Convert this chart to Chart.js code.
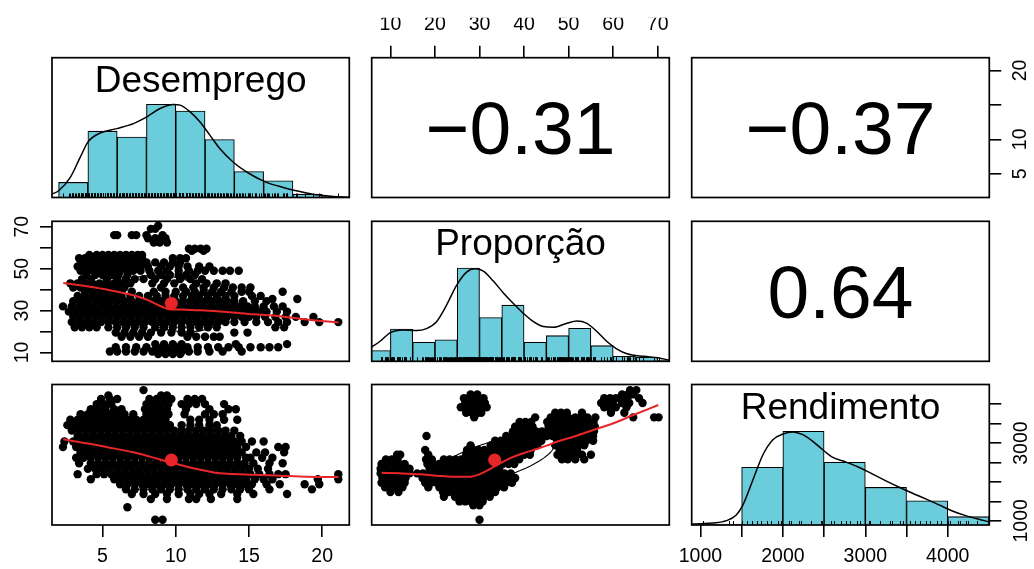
<!DOCTYPE html>
<html><head><meta charset="utf-8">
<script src="https://cdn.jsdelivr.net/npm/chart.js@4.4.1/dist/chart.umd.min.js"></script>
<style>
html,body{margin:0;padding:0;background:#fff;}
#wrap{position:relative;width:1034px;height:569px;overflow:hidden;background:#fff;}
#wrap canvas{position:absolute;left:0;top:0;}
</style></head><body><div id="wrap"></div>
<script>
// ================= DATA =================
const variables = ['Desemprego', 'Proporção', 'Rendimento'];
const correlations = [-0.31, -0.37, 0.64];           // D-P, D-R, P-R
const variableMeans = [9.7, 33.4, 2564];
const variableSds = [3.6, 13.5, 642];

// histograms (bin edges, counts) and density curves
const desempregoBins = [2, 4, 6, 8, 10, 12, 14, 16, 18, 20, 22];
const desempregoCounts = [18, 79, 72, 111, 103, 69, 31, 20, 4, 1];
const desempregoDensityX = [1.55, 2.0, 2.8, 3.48, 4.0, 4.84, 5.98, 7.11, 8.02, 8.93, 9.84, 10.3, 10.98, 11.66, 12.34, 13.02, 13.93, 15.07, 16.2, 17.34, 18.48, 19.61, 20.75, 21.84];
const desempregoDensityY = [4.0, 8.0, 24, 48, 66, 76.8, 82, 88, 96, 106, 110.8, 110, 102, 90, 74, 58, 42, 28, 18, 12, 7.2, 3.2, 1.2, 0];

const proporcaoBins = [5, 10, 15, 20, 25, 30, 35, 40, 45, 50, 55, 60, 65, 70, 75];
const proporcaoCounts = [13, 39, 23, 26, 113, 53, 68, 23, 31, 40, 19, 6, 5, 1];
const proporcaoDensityX = [5.72, 7.6, 10, 12.85, 15.85, 18.1, 20.35, 22.6, 24.85, 27.1, 28.98, 30.86, 33.1, 35.36, 37.6, 39.86, 42.1, 44.36, 46.6, 49.6, 51.86, 54.1, 56.36, 58.6, 60.86, 63.1, 66.86, 70, 72.7];
const proporcaoDensityY = [17.2, 24, 34.8, 38, 37.2, 39.6, 48, 68, 92, 108, 112, 109.2, 97.2, 82.8, 70, 58, 48, 42, 41.2, 46, 48.8, 46, 36, 24, 14.8, 9.2, 6, 4.4, 1.2];

const rendimentoBins = [1000, 1500, 2000, 2500, 3000, 3500, 4000, 4500];
const rendimentoCounts = [1, 69, 112, 75, 45, 29, 10];
const rendimentoDensityX = [891, 1000, 1153, 1315, 1435, 1516, 1637, 1758, 1879, 2000, 2121, 2242, 2363, 2484, 2605, 2766, 2927, 3089, 3250, 3411, 3573, 3734, 3895, 4056, 4218, 4379, 4492];
const rendimentoDensityY = [1.2, 1.6, 2.4, 5.2, 12, 24, 54, 84, 102, 108.8, 111.2, 108, 100, 90, 80.8, 75.2, 68.8, 60.8, 52.8, 45.2, 38, 31.2, 24, 16.8, 11.2, 6.8, 4];

// lowess smooths
const dpLowessX = [2.32, 3.92, 5.51, 7.10, 8.02, 8.93, 9.61, 10.29, 11.66, 13.48, 15.30, 17.12, 18.95, 21.11];
const dpLowessY = [43.2, 41.6, 39.7, 37.3, 35.2, 32.2, 30.5, 30.5, 30.1, 29.3, 28.2, 27.3, 25.7, 24.3];
const drLowessX = [2.32, 3.92, 5.51, 7.10, 8.24, 9.61, 10.75, 12.12, 13.03, 13.94, 15.30, 17.12, 18.95, 21.11];
const drLowessY = [3095, 2993, 2880, 2761, 2650, 2504, 2393, 2282, 2222, 2204, 2187, 2162, 2136, 2127];
const prLowessX = [8.04, 12.15, 16.64, 20.39, 24.12, 27.87, 30.11, 32.35, 34.6, 36.84, 39.83, 42.84, 45.08, 47.33, 51.05, 55.54, 60.03, 64.52, 70.13];
const prLowessY = [2238, 2222, 2197, 2161, 2135, 2135, 2204, 2333, 2479, 2608, 2736, 2847, 2932, 3034, 3163, 3335, 3507, 3720, 3977];

// scatter points, grouped by rows: [Proporção, [Desemprego...]]
const dpRows = [
 [70.5,[8.8]],[69,[8.3,8.6]],[66,[5.8,6.0,7.0,7.3,8.0,9.1]],[64.5,[8.1,8.6,9.0,9.3]],[62.5,[8.5,8.9,9.4]],
 [59.5,[10.9,11.3,11.7,12.1]],[58.5,[11.1,11.9]],
 [56.5,[4.1,4.6,5.0,5.4,5.8,6.2,6.6,7.0,7.4,7.7]],
 [55,[3.4,3.8,4.3,4.7,5.2,5.6,6.0,6.5,6.9,7.3,7.7,9.8,10.3,10.7]],
 [53,[3.6,4.0,4.4,4.9,5.3,5.8,6.2,6.6,7.1,7.5,8.0,8.6,9.2,9.8,10.3]],
 [51,[3.3,3.7,4.2,4.6,5.0,5.5,5.9,6.3,6.8,7.2,7.6,8.1,9.0,9.6,10.2,10.8,11.6,12.3]],
 [49,[3.5,4.0,4.4,4.9,5.3,5.7,6.2,6.7,7.1,7.6,8.2,8.8,9.4,10.2,10.9,11.5,12.0,12.6,13.2,13.7,14.3]],
 [47,[3.9,4.5,5.0,5.6,6.1,6.7,8.3,9.0,9.6,10.2,10.7,11.3]],
 [45,[3.6,4.2,5.3,6.0,6.6,7.2,7.8,8.6,9.4,10.3,11.0,11.8]],
 [43,[2.8,3.3,3.8,4.3,4.8,5.3,5.8,6.3,6.9,8.4,9.2,9.9,11.4,12.1,12.8,13.4]],
 [41,[3.0,3.5,4.0,4.5,5.0,5.5,6.0,6.5,9.0,10.5,11.2,11.9,12.6,13.3,13.9,14.5,15.1]],
 [39,[3.8,4.3,4.8,5.3,5.8,6.3,7.0,8.5,9.3,10.0,10.7,11.3,11.9,12.5,13.1,13.8,14.5,15.0,17.3]],
 [37,[3.3,3.8,4.3,4.8,5.3,5.8,6.3,6.9,7.5,8.1,8.7,9.3,9.9,10.5,11.1,11.6,12.2,12.8,13.4,14.0,15.2,15.8]],
 [35.5,[16.6,18.3]],
 [34.5,[3.0,3.5,4.0,4.5,5.0,5.5,6.0,6.5,7.0,7.5,8.0,8.5,9.0,9.5,10.0,10.5,11.0,11.5,12.0,12.5,13.0,13.5,14.0,14.6,15.4,16.2]],
 [32,[2.3,2.9,3.4,3.9,4.4,4.9,5.4,5.9,6.4,6.9,7.4,7.9,8.4,8.9,9.4,9.9,10.4,10.9,11.4,11.9,12.4,12.9,13.4,13.9,14.4,14.9,15.4,16.0,16.7,17.3]],
 [29.5,[2.7,3.2,3.7,4.2,4.7,5.2,5.7,6.2,6.7,7.2,7.7,8.2,8.7,9.2,9.7,10.2,10.7,11.2,11.7,12.2,12.7,13.2,13.7,14.2,14.7,15.2,15.7,16.2,16.9,17.6]],
 [27,[3.0,3.5,4.0,4.5,5.0,5.5,6.0,6.5,7.0,7.5,8.0,8.5,9.0,9.5,10.0,10.5,11.0,11.5,12.0,12.5,13.0,13.5,14.0,14.5,15.0,15.5,16.1,16.8,17.5,18.2,19.4]],
 [24.5,[2.9,3.4,3.9,4.4,4.9,5.4,5.9,6.4,6.9,7.4,7.9,8.4,8.9,9.4,9.9,10.4,10.9,11.4,11.9,12.4,12.9,13.4,14.0,14.7,15.5,16.3,17.0,17.6,18.8,19.8,21.1]],
 [22,[3.1,3.6,4.1,4.6,5.4,6.0,6.6,7.2,7.8,8.6,9.2,9.8,10.4,11.0,11.6,12.2,12.8,16.8,17.4]],
 [19.5,[5.9,6.5,7.1,7.7,8.3,9.0,9.7,10.4,11.0,14.0,14.9]],
 [17.5,[6.3,6.9,7.5,8.1,10.8,11.4,12.0,12.6,13.0]],
 [14,[8.6,9.2,9.8,10.4,14.1,17.6]],
 [12.5,[5.9,6.6,7.3,8.0,8.7,9.2,9.7,10.2,10.8,11.5,12.2,12.9,13.6,14.3,15.1,15.8,16.4,17.0]],
 [10.5,[5.5,6.0,6.6,7.2,7.8,8.4,8.9,9.4,9.9,10.4,10.9,11.5,12.3,13.2,14.5]],
 [9.3,[8.8,9.3,9.8,10.3]]
];
// [Rendimento, [Desemprego...]]
const drRows = [
 [4360,[7.8]],[4220,[5.4,9.0,9.4]],
 [4130,[4.9,5.5,6.0,8.2,8.7,9.2,9.7,10.8,11.3,11.8]],
 [4000,[4.6,5.1,5.6,8.0,8.5,9.0,9.5,10.4,10.9,11.4,12.0,13.3]],
 [3870,[4.2,4.7,5.2,5.8,6.3,7.9,8.4,8.9,9.4,10.7,12.3,13.6,14.1]],
 [3740,[3.5,4.0,4.5,5.0,5.5,6.0,6.5,7.1,8.0,8.5,9.0,9.5,10.6,12.0,12.6,13.2]],
 [3600,[2.8,3.3,3.8,4.3,4.8,5.3,5.8,6.3,6.8,7.3,7.8,8.3,8.8,9.3,11.0,11.6,12.3,13.3,14.2]],
 [3460,[2.6,3.1,3.6,4.1,4.6,5.1,5.6,6.1,6.6,7.1,7.6,8.1,8.6,9.1,9.6,10.4,11.0,11.6,12.3,12.8]],
 [3320,[2.9,3.4,3.9,4.4,4.9,5.4,5.9,6.4,6.9,7.4,7.9,8.4,8.9,9.4,9.9,10.4,10.9,11.4,11.9,12.4,12.9,13.4,14.0]],
 [3180,[3.3,3.8,4.3,4.8,5.3,5.8,6.3,6.8,7.3,7.8,8.3,8.8,9.3,9.8,10.3,10.8,11.3,11.8,12.3,12.8,13.3,13.8,14.4]],
 [3040,[2.4,3.0,3.5,4.0,4.5,5.0,5.5,6.0,6.5,7.0,7.5,8.0,8.5,9.0,9.5,10.0,10.5,11.0,11.5,12.0,12.5,13.0,13.5,14.0,14.5,15.2,16.0]],
 [2900,[2.3,3.2,3.7,4.2,4.7,5.2,5.7,6.2,6.7,7.2,7.7,8.2,8.7,9.2,9.7,10.2,10.7,11.2,11.7,12.2,12.7,13.2,13.7,14.2,14.8,17.0,17.5]],
 [2760,[3.5,4.0,4.5,5.0,5.5,6.0,6.5,7.0,7.5,8.0,8.5,9.0,9.5,10.0,10.5,11.0,11.5,12.0,12.5,13.0,13.5,14.0,14.5,15.5,16.1,17.4]],
 [2620,[3.2,3.7,4.2,4.7,5.2,5.7,6.2,6.7,7.2,7.7,8.2,8.7,9.2,9.7,10.2,10.7,11.2,11.7,12.2,12.7,13.2,13.7,14.2,14.8,15.1,15.9,16.6]],
 [2480,[3.4,4.2,4.7,5.2,5.7,6.2,6.7,7.2,7.7,8.2,8.7,9.2,9.7,10.2,10.7,11.2,11.7,12.2,12.7,13.2,13.7,14.2,14.7,15.3,16.4,17.3]],
 [2340,[4.0,4.5,5.0,5.5,6.0,6.5,7.0,7.5,8.0,8.5,9.0,9.5,10.0,10.5,11.0,11.5,12.0,12.5,13.0,13.5,14.0,14.5,15.0,15.6,16.3]],
 [2200,[3.3,4.6,5.1,5.6,6.1,6.6,7.1,7.6,8.1,8.6,9.1,9.6,10.1,10.6,11.1,11.6,12.1,12.6,13.1,13.6,14.1,14.6,15.1,15.7,16.4,17.0,17.5,21.1]],
 [2070,[4.2,5.8,6.3,6.8,7.3,7.8,8.3,8.8,9.3,9.8,10.3,10.8,11.3,11.8,12.3,12.8,13.3,13.8,14.3,14.8,15.4,16.0,16.6,19.7,21.1]],
 [1940,[6.2,6.7,7.2,7.7,8.2,8.7,9.2,9.7,10.2,10.7,11.2,11.7,12.2,12.7,13.2,13.7,14.2,14.7,15.2,16.2,17.1,18.8,19.8]],
 [1810,[6.6,7.2,7.8,8.4,9.0,9.6,10.2,10.8,11.4,12.0,12.6,13.2,13.8,14.4,15.0,16.4,19.3]],
 [1690,[7.0,7.8,8.6,9.4,10.2,11.0,11.6,12.3,13.1,14.2,15.3,17.6]],
 [1560,[8.3,9.4,10.9,11.4,12.4,14.2]],
 [1350,[6.7]],[1030,[8.6,9.1]]
];
// [Rendimento, [Proporção...]]
const prRows = [
 [4360,[63.8,65.2]],[4250,[28.0,29.5,62.0,63.3,64.5]],
 [4150,[26.5,27.6,28.7,29.8,30.9,58.0,59.3,60.6,61.9,63.2,65.8]],
 [4030,[26.8,27.9,29.0,30.1,31.2,57.3,58.6,59.9,62.0,63.6,66.6]],
 [3920,[25.8,27.0,28.2,29.4,30.6,31.6,58.0,59.3,60.6,63.0]],
 [3780,[27.0,28.3,29.6,30.4,47.0,48.3,49.6,53.0,59.5,62.5]],
 [3660,[28.8,42.5,46.0,47.3,48.6,49.9,51.5,52.8,54.2,56.0,64.5,69.2,70.2]],
 [3540,[39.0,40.3,41.6,45.2,46.5,47.8,49.1,50.4,51.7,53.0,54.3,55.6]],
 [3420,[38.0,39.3,40.6,41.9,45.5,46.8,48.1,49.4,50.7,52.0,53.3,54.6,55.9]],
 [3300,[37.5,38.8,40.1,41.4,42.7,44.0,45.3,46.6,47.9,49.2,50.5,51.8,53.1,54.4,55.7]],
 [3180,[18.1,36.0,37.3,38.6,39.9,41.2,42.5,43.8,45.1,46.4,47.7,49.0,50.3,51.6,52.9,54.2,55.5]],
 [3060,[33.5,34.8,36.1,37.4,38.7,40.0,41.3,42.6,43.9,47.5,48.8,50.1,51.4,52.7,54.0,55.5]],
 [2940,[28.0,32.5,33.8,35.1,36.4,37.7,39.0,40.3,41.6,43.0,47.0,48.3,49.6,50.9,52.2,53.5]],
 [2820,[17.8,27.2,28.5,29.8,31.1,32.4,33.7,35.0,36.3,37.6,38.9,40.2,41.5,48.0,49.3,50.6,51.9]],
 [2700,[11.5,12.2,18.5,27.0,28.3,29.6,30.9,32.2,33.5,34.8,36.1,37.4,38.7,40.0,41.3,47.5,48.8,50.1,51.4,53.0,55.0]],
 [2580,[9.0,10.3,11.6,18.0,19.3,22.0,23.3,24.6,25.9,27.2,28.5,29.8,31.1,32.4,33.7,35.0,36.3,37.6,38.9,48.5,49.8,51.5,53.5]],
 [2460,[8.0,9.3,10.6,11.9,13.2,18.3,19.6,20.9,22.2,23.5,24.8,26.1,27.4,28.7,30.0,31.3,32.6,33.9,35.2,36.5,37.8]],
 [2340,[7.8,9.1,10.4,11.7,13.0,14.3,18.8,20.1,21.4,22.7,24.0,25.3,26.6,27.9,29.2,30.5,31.8,33.1,34.4]],
 [2220,[7.8,9.1,10.4,11.7,13.0,14.3,16.0,17.3,18.6,19.9,21.2,22.5,23.8,25.1,26.4,27.7,29.0,30.3,31.6,33.0,34.3,35.6,37.0]],
 [2100,[8.2,9.5,10.8,12.1,13.4,17.2,18.5,19.8,21.1,22.4,23.7,25.0,26.3,27.6,28.9,30.2,31.5,32.8,34.1,35.4,36.7,38.0]],
 [1980,[8.0,9.3,10.6,11.9,13.2,17.8,19.1,20.4,21.7,23.0,24.3,25.6,26.9,28.2,29.5,30.8,32.1,33.4,34.7,36.0,37.3]],
 [1860,[8.8,10.1,11.4,12.7,18.5,21.0,22.3,23.6,24.9,26.2,27.5,28.8,30.1,31.4,32.7,34.0,35.5]],
 [1740,[10.0,11.8,21.8,23.1,24.4,25.7,27.0,28.3,29.6,30.9,32.2,33.5]],
 [1620,[22.0,24.5,25.8,27.1,28.4,29.7,31.0,32.3]],
 [1500,[25.5,26.8,28.1,29.4,30.7]],
 [1400,[28.6,30.0]],[1030,[30.0]]
];

// axis ticks and which of them carry labels
const desempregoTicks = [5, 10, 15, 20];
const desempregoBottomLabels = [5, 10, 15, 20];
const desempregoRightLabels = [5, 10, 20];
const proporcaoTicks = [10, 20, 30, 40, 50, 60, 70];
const proporcaoTopLabels = [10, 20, 30, 40, 50, 60, 70];
const proporcaoLeftLabels = [10, 30, 50, 70];
const rendimentoTicks = [1000, 1500, 2000, 2500, 3000, 3500, 4000];
const rendimentoBottomLabels = [1000, 2000, 3000, 4000];
const rendimentoRightLabels = [1000, 3000];

// ================= LAYOUT / STYLE =================
const W = 1034, H = 569, AX = 40, TICK_FONT = 19.5;
const FONT = '"Liberation Sans", Arial, Helvetica, sans-serif';
const cols = [[52, 349.3], [371.7, 669.3], [691.7, 989.3]];
const rows = [[57.7, 197.5], [221.3, 361.3], [384.5, 525]];
const ranges = [[1.55, 21.85], [5.8, 72.6], [894, 4504]];
const HIST_COL = '#6BCCDC';
const RED = '#E8262A';

Chart.defaults.font.family = FONT;
Chart.defaults.animation = false;
Chart.defaults.plugins.legend.display = false;
Chart.defaults.plugins.tooltip.enabled = false;

const framePlugin = {id:'frame', afterDraw(chart){
  const {ctx, chartArea:a} = chart; ctx.save(); ctx.strokeStyle='#000'; ctx.lineWidth=1.7;
  ctx.strokeRect(a.left, a.top, a.right-a.left, a.bottom-a.top); ctx.restore(); }};
const textPlugin = {id:'panelText', afterDraw(chart, args, o){
  if(!o || o.text == null) return;
  const {ctx, chartArea:a} = chart; ctx.save(); ctx.fillStyle='#000';
  ctx.font = o.size + 'px ' + FONT; ctx.textAlign='center'; ctx.textBaseline='alphabetic';
  const y = o.fromTop != null ? a.top + o.fromTop : (a.top+a.bottom)/2 + o.size*0.358;
  ctx.fillText(o.text, (a.left+a.right)/2, y); ctx.restore(); }};
const rugPlugin = {id:'rug', afterDatasetsDraw(chart, args, o){
  if(!o || !o.values) return;
  const xs = chart.scales.x, a = chart.chartArea, ctx = chart.ctx;
  ctx.save(); ctx.beginPath(); ctx.rect(a.left, a.top, a.right-a.left, a.bottom-a.top); ctx.clip();
  ctx.strokeStyle='#000'; ctx.lineWidth=1; ctx.beginPath();
  for(const v of o.values){ const px = Math.round(xs.getPixelForValue(v)) + 0.5; ctx.moveTo(px, a.bottom); ctx.lineTo(px, a.bottom - 4); }
  ctx.stroke(); ctx.restore(); }};

function axis(range, opt, hiddenTicks){
  const base = {type:'linear', min:range[0], max:range[1], bounds:'data', offset:false, display:!!opt,
    grid:{display:false, offset:false}, border:{display:false}};
  if(!opt){ if(hiddenTicks) base.afterBuildTicks = (s) => { s.ticks = hiddenTicks.map(v => ({value:v})); }; return base; }
  return Object.assign(base, {
    position: opt.position,
    grid:{display:true, offset:false, drawOnChartArea:false, drawTicks:true, tickLength:12, tickWidth:1.6, tickColor:'#000', color:'#000', lineWidth:1.6},
    ticks:{autoSkip:false, color:'#000', font:{size:TICK_FONT, family:FONT}, padding:opt.padding,
      minRotation:opt.rotate||0, maxRotation:opt.rotate||0, crossAlign: opt.rotate ? 'center' : 'near',
      callback:(v) => opt.labels.includes(v) ? String(v) : ''},
    afterBuildTicks:(s) => { s.ticks = opt.ticks.map(v => ({value:v})); },
    afterFit:(s) => { if(s.isHorizontal()) s.height = AX; else s.width = AX; }
  });
}
function padding(r, c, ax){
  ax = ax || {};
  return {left: cols[c][0] - (ax.left?AX:0), right: W - cols[c][1] - (ax.right?AX:0),
          top: rows[r][0] - (ax.top?AX:0), bottom: H - rows[r][1] - (ax.bottom?AX:0)};
}
function newCanvas(){ const c = document.createElement('canvas'); c.width=W; c.height=H; document.getElementById('wrap').appendChild(c); return c; }
function zipXY(xs, ys){ return xs.map((x,i) => ({x:x, y:ys[i]})); }
function rowsToPoints(rowsArr){ const pts=[]; rowsArr.forEach(([k, list]) => list.forEach(v => pts.push({x:v, y:k}))); return pts; }
function ellipsePts(i, j, r){
  const pts=[]; const s1=Math.sqrt(1+r), s2=Math.sqrt(1-r), th=Math.sign(r)/Math.SQRT2;
  for(let k=0;k<=60;k++){ const a=k*2*Math.PI/60, c=Math.cos(a), s=Math.sin(a);
    pts.push({x:(c*s1*th - s*s2*th)*variableSds[i] + variableMeans[i], y:(c*s1*th + s*s2*th)*variableSds[j] + variableMeans[j]}); }
  return pts;
}
const fmt = (r) => r.toFixed(2).replace('-', '\u2212');

function histChart(r, c, vi, bins, counts, dX, dY, rugVals, scalesExtra, ax){
  const centers = counts.map((n,i) => ({x:(bins[i]+bins[i+1])/2, y:n}));
  const ymax = 1.5*Math.max(...counts, ...dY);
  const scales = Object.assign({x: axis(ranges[vi], null, bins), y:{type:'linear', min:0, max:ymax, display:false}}, scalesExtra||{});
  new Chart(newCanvas(), {type:'bar', data:{datasets:[
      {type:'line', data:zipXY(dX, dY), borderColor:'#000', borderWidth:1.5, pointRadius:0, cubicInterpolationMode:'monotone', clip:0},
      {type:'bar', data:centers, backgroundColor:HIST_COL, borderColor:'#000', borderWidth:1.1, borderSkipped:'bottom', barPercentage:1, categoryPercentage:1}
    ]},
    options:{responsive:false, layout:{padding:padding(r,c,ax)}, scales:scales,
      plugins:{panelText:{text:variables[vi], size:37, fromTop:34}, rug:{values:rugVals}}},
    plugins:[framePlugin, rugPlugin, textPlugin]});
}
function scatterChart(r, c, xi, yi, pts, lx, ly, rr, scalesOpt, ax){
  new Chart(newCanvas(), {type:'scatter', data:{datasets:[
      {data:[{x:variableMeans[xi], y:variableMeans[yi]}], backgroundColor:RED, pointRadius:6.5, borderWidth:0},
      {data:zipXY(lx, ly), showLine:true, borderColor:RED, borderWidth:2, pointRadius:0, cubicInterpolationMode:'monotone'},
      {data:ellipsePts(xi, yi, rr), showLine:true, borderColor:'#000', borderWidth:1.1, pointRadius:0},
      {data:pts, backgroundColor:'#000', pointRadius:4.2, borderWidth:0}
    ]},
    options:{responsive:false, layout:{padding:padding(r,c,ax)}, scales:scalesOpt, plugins:{}},
    plugins:[framePlugin]});
}
function corrChart(r, c, val, scalesOpt, ax){
  new Chart(newCanvas(), {type:'scatter', data:{datasets:[]},
    options:{responsive:false, layout:{padding:padding(r,c,ax)}, scales:scalesOpt,
      plugins:{panelText:{text:fmt(val), size:75}}},
    plugins:[framePlugin, textPlugin]});
}

// ================= BUILD =================
const dpPoints = rowsToPoints(dpRows);
const drPoints = rowsToPoints(drRows);
const prPoints = rowsToPoints(prRows);
const rugD = dpPoints.map(p => p.x);
const rugP = prPoints.map(p => p.x);
const rugR = drPoints.map(p => p.y).concat(prPoints.map(p => p.y));

// row 1
histChart(0, 0, 0, desempregoBins, desempregoCounts, desempregoDensityX, desempregoDensityY, rugD);
corrChart(0, 1, correlations[0], {
  x: axis(ranges[1], {position:'top', ticks:proporcaoTicks, labels:proporcaoTopLabels, padding:9}),
  y: axis([0,1], null)}, {top:true});
corrChart(0, 2, correlations[1], {
  x: axis([0,1], null),
  y: axis(ranges[0], {position:'right', ticks:desempregoTicks, labels:desempregoRightLabels, padding:8.8, rotate:90})}, {right:true});
// row 2
scatterChart(1, 0, 0, 1, dpPoints, dpLowessX, dpLowessY, correlations[0], {
  x: axis(ranges[0], null),
  y: axis(ranges[1], {position:'left', ticks:proporcaoTicks, labels:proporcaoLeftLabels, padding:6.6, rotate:90})}, {left:true});
histChart(1, 1, 1, proporcaoBins, proporcaoCounts, proporcaoDensityX, proporcaoDensityY, rugP);
corrChart(1, 2, correlations[2], {x: axis([0,1], null), y: axis([0,1], null)});
// row 3
scatterChart(2, 0, 0, 2, drPoints, drLowessX, drLowessY, correlations[1], {
  x: axis(ranges[0], {position:'bottom', ticks:desempregoTicks, labels:desempregoBottomLabels, padding:8}),
  y: axis(ranges[2], null)}, {bottom:true});
scatterChart(2, 1, 1, 2, prPoints, prLowessX, prLowessY, correlations[2], {
  x: axis(ranges[1], null), y: axis(ranges[2], null)});
histChart(2, 2, 2, rendimentoBins, rendimentoCounts, rendimentoDensityX, rendimentoDensityY, rugR, {
  x: axis(ranges[2], {position:'bottom', ticks:rendimentoTicks, labels:rendimentoBottomLabels, padding:8}),
  yR: Object.assign(axis(ranges[2], {position:'right', ticks:rendimentoTicks, labels:rendimentoRightLabels, padding:-1.5, rotate:90}), {axis:'y'})
}, {bottom:true, right:true});
</script></body></html>
